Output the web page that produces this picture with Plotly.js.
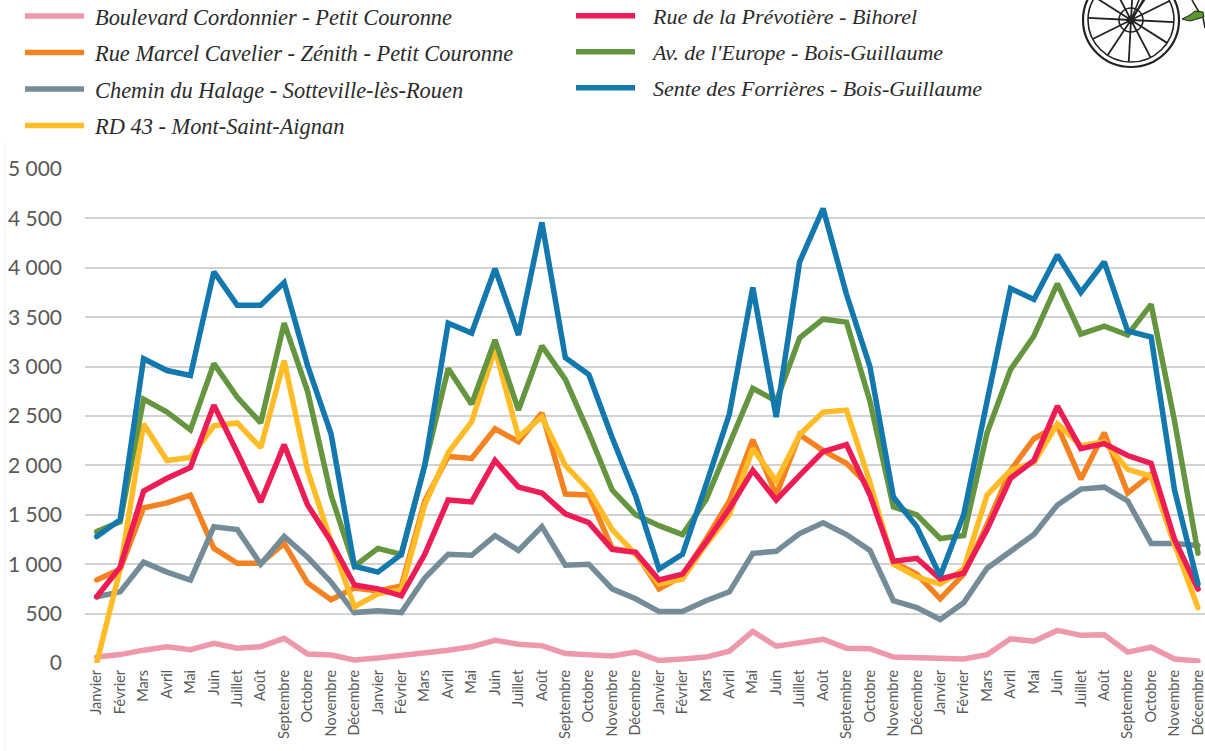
<!DOCTYPE html>
<html><head><meta charset="utf-8">
<script src="https://cdn.plot.ly/plotly-3.0.1.min.js"></script>
<style>html,body{margin:0;padding:0;background:#fff}
.scatterlayer .js-line{stroke-linecap:round}
.legendtext{transform:translateX(6px)}
.legend2text{transform:translateX(13px)}
.legend .scrollbox,.legend2 .scrollbox{transform:translateY(-5px);clip-path:none !important}</style></head>
<body><div id="chart" style="width:1205px;height:751px"></div>
<script>
const months=["Janvier","Février","Mars","Avril","Mai","Juin","Juillet","Août","Septembre","Octobre","Novembre","Décembre"];
const tickLabels=[...months,...months,...months,...months];
const positions=tickLabels.map((_,i)=>i);
const cordonnier=[60,85,130,165,135,200,150,165,250,90,80,30, 50,75,100,130,165,230,190,175,95,80,70,110, 25,40,60,120,320,170,200,240,150,145,60,55, 40,40,85,245,220,330,280,285,110,160,40,20];
const cavelier=[840,950,1570,1620,1700,1160,1010,1010,1210,810,640,760, 730,780,1640,2090,2070,2370,2240,2530,1710,1700,1160,1120, 750,880,1250,1640,2260,1700,2310,2150,2020,1780,1020,900, 650,900,1400,1950,2270,2400,1860,2330,1720,1910,1200,750];
const halage=[670,720,1020,920,840,1380,1350,1000,1280,1070,820,510, 530,510,860,1100,1090,1290,1140,1380,990,1000,750,650, 520,520,630,720,1110,1130,1310,1420,1300,1140,630,560, 440,610,960,1130,1300,1600,1760,1780,1640,1210,1210,1190];
const rd43=[0,950,2420,2050,2080,2400,2430,2180,3060,1950,1230,570, 700,740,1600,2130,2440,3180,2290,2490,2000,1750,1350,1100, 800,850,1200,1500,2170,1840,2310,2540,2560,1830,1000,870, 800,950,1700,1950,2030,2420,2200,2240,1960,1890,1200,560];
const prevotiere=[670,970,1740,1870,1980,2610,2130,1630,2210,1600,1230,790, 750,680,1100,1650,1630,2050,1780,1720,1510,1420,1150,1120, 840,900,1220,1560,1950,1650,1900,2140,2210,1700,1030,1060, 850,910,1350,1870,2050,2600,2170,2220,2100,2020,1250,750];
const europe=[1330,1430,2670,2540,2360,3030,2690,2430,3440,2750,1700,980, 1160,1100,2000,2980,2620,3270,2560,3210,2870,2330,1750,1500, 1390,1300,1650,2200,2780,2650,3290,3480,3450,2650,1580,1500, 1260,1290,2330,2970,3310,3840,3330,3410,3320,3630,2450,1110];
const forrieres=[1280,1450,3080,2960,2910,3960,3620,3620,3850,3010,2320,980, 920,1100,2000,3440,3340,3990,3320,4460,3090,2920,2280,1690, 950,1100,1800,2520,3800,2490,4060,4600,3730,3000,1680,1380, 880,1500,2650,3790,3680,4130,3750,4060,3360,3300,1750,800];
const yTicks=[0,500,1000,1500,2000,2500,3000,3500,4000,4500,5000];
const yLabels=["0","500","1 000","1 500","2 000","2 500","3 000","3 500","4 000","4 500","5 000"];

const mk=(name,y,color,legend)=>({type:"scatter",mode:"lines",name,x:positions,y,legend,legendgroup:name,
  cliponaxis:false,line:{color,width:5.5},hoverinfo:"name+y"});
const data=[
 mk("Boulevard Cordonnier - Petit Couronne",cordonnier,"#EE98AC","legend"),
 mk("Rue Marcel Cavelier - Zénith - Petit Couronne",cavelier,"#F58220","legend"),
 mk("Chemin du Halage - Sotteville-lès-Rouen",halage,"#738C97","legend"),
 mk("RD 43 - Mont-Saint-Aignan",rd43,"#FFBC27","legend"),
 mk("Rue de la Prévotière - Bihorel",prevotiere,"#ED1C55","legend2"),
 mk("Av. de l'Europe - Bois-Guillaume",europe,"#65953F","legend2"),
 mk("Sente des Forrières - Bois-Guillaume",forrieres,"#1278AD","legend2")
];

// Page pixels to paper coordinates (paper = plot area) for the decorative bicycle and legends
const W=1205,H=751,L=85,T=169,B=88;
const PW=W-L,PH=H-T-B;
const px=v=>(v-L)/PW, py=v=>(H-B-v)/PH;
const cx=1131,cy=20,rx=48,ry=47;
const dark="#222";
const seg=(x0,y0,x1,y1,width=1.8,color=dark)=>({type:"line",xref:"paper",yref:"paper",x0:px(x0),y0:py(y0),x1:px(x1),y1:py(y1),line:{color,width}});
const ell=(rX,rY,width)=>({type:"circle",xref:"paper",yref:"paper",x0:px(cx-rX),x1:px(cx+rX),y0:py(cy-rY),y1:py(cy+rY),line:{color:dark,width}});
const shapes=[ell(rx,ry,2.2),ell(rx-5,ry-5,1.6),ell(12,12,1.6),seg(5,143,5,751,1,"#F2F2F2")];
for(const deg of [3,33,63,93,123,153,183,213,243,273,303,333]){
  const a=deg*Math.PI/180;
  shapes.push(seg(cx,cy,cx+(rx-5)*Math.cos(a),cy+(ry-5)*Math.sin(a)));
}
shapes.push(seg(cx,cy,1139,0,1.6),seg(cx+1,cy,1143,0,1.6));
shapes.push({type:"circle",xref:"paper",yref:"paper",x0:px(cx-4),x1:px(cx+4),y0:py(cy-4),y1:py(cy+4),fillcolor:dark,line:{color:dark,width:1}});
shapes.push({type:"path",xref:"paper",yref:"paper",
  path:`M ${px(1182)} ${py(19)} L ${px(1190)} ${py(15)} L ${px(1195)} ${py(11)} L ${px(1203)} ${py(12)} L ${px(1204)} ${py(17)} L ${px(1190)} ${py(21)} Z`,
  fillcolor:"#5C9A2E",line:{color:"#1c1c1c",width:1}});
shapes.push(seg(1192,0,1199,12,1.5),seg(1203,18,1205,28,1.5));

const legendBase={bgcolor:"rgba(0,0,0,0)",borderwidth:0,itemwidth:59,itemclick:false,itemdoubleclick:false,
  tracegroupgap:4.4,xanchor:"left",yanchor:"top"};
const legendFont=size=>({family:"'Liberation Serif',serif",size,color:"#2b2b2b",style:"italic"});
const layout={
 width:W,height:H,paper_bgcolor:"#fff",plot_bgcolor:"#fff",showlegend:true,
 margin:{l:L,r:0,t:T,b:B,pad:0},
 font:{family:"Lato,sans-serif",color:"#595959"},
 xaxis:{type:"linear",range:[-0.5,47.3],tickmode:"array",tickvals:positions,ticktext:tickLabels,tickangle:-90,ticklabeloverflow:"allow",ticklabelstandoff:3,
   tickfont:{family:"Lato,sans-serif",size:14.5,color:"#595959"},showgrid:false,zeroline:false,showline:false,ticks:"",ticklen:0},
 yaxis:{range:[0,5000],tickmode:"array",tickvals:yTicks,ticktext:yLabels,ticklabelstandoff:22,
   tickfont:{family:"Lato,sans-serif",size:21,color:"#595959"},showgrid:true,gridcolor:"#D2D2D2",gridwidth:2,zeroline:false,showline:false,ticks:"",automargin:false},
 legend:{...legendBase,font:legendFont(22.4),x:px(20),y:py(0)},
 legend2:{...legendBase,font:legendFont(22),x:px(571),y:py(0)},
 shapes
};
Plotly.newPlot("chart",data,layout,{displayModeBar:false,responsive:false});
</script></body></html>
